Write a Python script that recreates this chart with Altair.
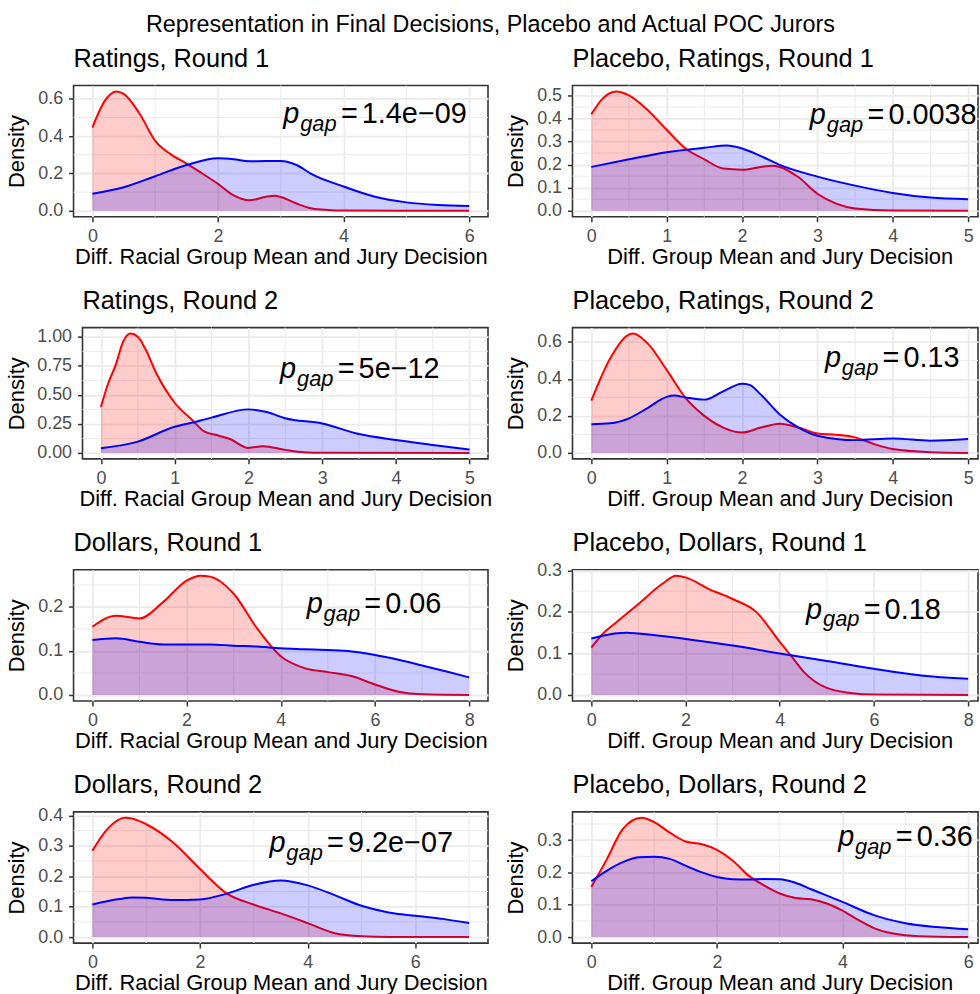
import altair as alt
import pandas as pd

FONT = "Liberation Sans"

main_title = "Representation in Final Decisions, Placebo and Actual POC Jurors"
panel_titles = ["Ratings, Round 1", "Placebo, Ratings, Round 1",
                "Ratings, Round 2", "Placebo, Ratings, Round 2",
                "Dollars, Round 1", "Placebo, Dollars, Round 1",
                "Dollars, Round 2", "Placebo, Dollars, Round 2"]
x_title_left = "Diff. Racial Group Mean and Jury Decision"
x_title_right = "Diff. Group Mean and Jury Decision"
p_values = ["1.4e\u221209", "0.0038", "5e\u221212", "0.13",
            "0.06", "0.18", "9.2e\u221207", "0.36"]

x_max = [6, 5, 5, 5, 8, 8, 7, 6]
x_ticks = [[0, 2, 4, 6], [0, 1, 2, 3, 4, 5], [0, 1, 2, 3, 4, 5], [0, 1, 2, 3, 4, 5],
           [0, 2, 4, 6, 8], [0, 2, 4, 6, 8], [0, 2, 4, 6], [0, 2, 4, 6]]
x_minor = [[1, 3, 5], [0.5, 1.5, 2.5, 3.5, 4.5], [0.5, 1.5, 2.5, 3.5, 4.5],
           [0.5, 1.5, 2.5, 3.5, 4.5], [1, 3, 5, 7], [1, 3, 5, 7], [1, 3, 5, 7], [1, 3, 5]]
y_ticks = [[0, 0.2, 0.4, 0.6], [0, 0.1, 0.2, 0.3, 0.4, 0.5], [0, 0.25, 0.5, 0.75, 1.0],
           [0, 0.2, 0.4, 0.6], [0, 0.1, 0.2], [0, 0.1, 0.2, 0.3],
           [0, 0.1, 0.2, 0.3, 0.4], [0, 0.1, 0.2, 0.3]]
y_minor = [[0.1, 0.3, 0.5], [0.05, 0.15, 0.25, 0.35, 0.45], [0.125, 0.375, 0.625, 0.875],
           [0.1, 0.3, 0.5], [0.05, 0.15, 0.25], [0.05, 0.15, 0.25],
           [0.05, 0.15, 0.25, 0.35], [0.05, 0.15, 0.25, 0.35]]
y_format = [".1f", ".1f", ".2f", ".1f", ".1f", ".1f", ".1f", ".1f"]
ann_x = [3.04, 2.9, 2.43, 3.10, 4.55, 4.56, 3.29, 3.93]
ann_y = [0.468, 0.374, 0.645, 0.466, 0.187, 0.184, 0.279, 0.283]

# Panel 1: Ratings, Round 1
r1_x = [0, 0.2, 0.38, 0.5, 0.75, 1, 1.25, 1.5, 1.75, 2, 2.25, 2.5, 2.75, 2.9, 3.0, 3.25, 3.5, 3.75, 4, 5, 6]
r1_y = [0.446, 0.59, 0.639, 0.626, 0.521, 0.375, 0.302, 0.253, 0.2, 0.144, 0.082, 0.056, 0.074, 0.081, 0.074, 0.039, 0.012, 0.004, 0.001, 0, 0]
b1_x = [0, 0.5, 1, 1.5, 2, 2.25, 2.5, 2.75, 3, 3.25, 3.5, 4, 4.5, 5, 5.5, 6]
b1_y = [0.091, 0.126, 0.185, 0.245, 0.281, 0.276, 0.265, 0.266, 0.266, 0.245, 0.195, 0.13, 0.075, 0.045, 0.031, 0.025]
# Panel 2: Placebo, Ratings, Round 1
r2_x = [0, 0.15, 0.33, 0.5, 0.75, 1, 1.25, 1.5, 1.75, 2, 2.25, 2.4, 2.5, 2.75, 3, 3.25, 3.5, 4, 5]
r2_y = [0.418, 0.486, 0.517, 0.50, 0.436, 0.351, 0.27, 0.223, 0.183, 0.178, 0.19, 0.195, 0.19, 0.145, 0.074, 0.031, 0.01, 0.001, 0]
b2_x = [0, 0.5, 1, 1.5, 1.8, 2, 2.25, 2.5, 3, 3.5, 4, 4.5, 5]
b2_y = [0.19, 0.223, 0.254, 0.273, 0.283, 0.27, 0.237, 0.199, 0.148, 0.109, 0.077, 0.057, 0.05]
# Panel 3: Ratings, Round 2
r3_x = [0, 0.1, 0.2, 0.3, 0.4, 0.5, 0.6, 0.75, 1, 1.25, 1.4, 1.6, 1.75, 2, 2.2, 2.5, 2.75, 3, 5]
r3_y = [0.395, 0.602, 0.758, 0.957, 1.028, 1.0, 0.90, 0.688, 0.432, 0.276, 0.185, 0.148, 0.12, 0.043, 0.057, 0.026, 0.006, 0.001, 0]
b3_x = [0, 0.5, 1, 1.2, 1.5, 2, 2.25, 2.5, 3, 3.5, 4, 4.5, 5]
b3_y = [0.04, 0.097, 0.225, 0.255, 0.304, 0.375, 0.352, 0.298, 0.253, 0.162, 0.111, 0.068, 0.028]
# Panel 4: Placebo, Ratings, Round 2
r4_x = [0, 0.25, 0.55, 0.75, 1, 1.25, 1.5, 1.75, 2, 2.25, 2.5, 2.75, 3, 3.25, 3.5, 3.75, 4, 4.5, 5]
r4_y = [0.283, 0.511, 0.645, 0.591, 0.449, 0.297, 0.2, 0.137, 0.11, 0.137, 0.158, 0.137, 0.105, 0.098, 0.084, 0.048, 0.021, 0.004, 0.0]
b4_x = [0, 0.25, 0.5, 0.75, 1, 1.1, 1.25, 1.5, 1.75, 2, 2.1, 2.25, 2.5, 2.75, 3, 3.5, 4, 4.5, 5]
b4_y = [0.155, 0.16, 0.187, 0.244, 0.303, 0.31, 0.30, 0.288, 0.333, 0.374, 0.368, 0.315, 0.208, 0.137, 0.093, 0.069, 0.078, 0.066, 0.075]
# Panel 5: Dollars, Round 1
r5_x = [0, 0.5, 1, 1.5, 2, 2.3, 2.5, 3, 3.5, 4, 4.5, 5, 5.5, 6, 6.5, 7, 8]
r5_y = [0.155, 0.18, 0.174, 0.211, 0.26, 0.271, 0.269, 0.23, 0.151, 0.088, 0.061, 0.052, 0.043, 0.024, 0.0075, 0.0015, 0]
b5_x = [0, 0.5, 1, 1.5, 2, 2.5, 3, 3.5, 4, 4.5, 5, 5.5, 6, 6.5, 7, 7.5, 8]
b5_y = [0.125, 0.129, 0.121, 0.115, 0.115, 0.115, 0.112, 0.11, 0.106, 0.104, 0.102, 0.099, 0.091, 0.08, 0.067, 0.054, 0.04]
# Panel 6: Placebo, Dollars, Round 1
r6_x = [0, 0.25, 0.5, 1, 1.5, 1.8, 2, 2.5, 3, 3.5, 4, 4.25, 4.5, 5, 5.5, 6, 8]
r6_y = [0.114, 0.148, 0.172, 0.219, 0.267, 0.287, 0.283, 0.255, 0.231, 0.2, 0.128, 0.093, 0.057, 0.017, 0.005, 0.001, 0]
b6_x = [0, 0.5, 0.75, 1, 2, 3, 4, 5, 6, 7, 8]
b6_y = [0.136, 0.148, 0.15, 0.148, 0.135, 0.119, 0.10, 0.082, 0.063, 0.047, 0.039]
# Panel 7: Dollars, Round 2
r7_x = [0, 0.25, 0.5, 0.6, 0.75, 1, 1.5, 2, 2.5, 3, 3.5, 4, 4.5, 5, 5.5, 7]
r7_y = [0.284, 0.349, 0.387, 0.392, 0.389, 0.371, 0.311, 0.224, 0.143, 0.107, 0.078, 0.046, 0.013, 0.003, 0.0005, 0]
b7_x = [0, 0.5, 0.75, 1, 1.5, 2, 2.5, 3, 3.5, 4, 4.5, 5, 5.5, 6, 6.5, 7]
b7_y = [0.107, 0.125, 0.13, 0.129, 0.122, 0.124, 0.143, 0.172, 0.186, 0.17, 0.138, 0.103, 0.081, 0.07, 0.06, 0.046]
# Panel 8: Placebo, Dollars, Round 2
r8_x = [0, 0.25, 0.5, 0.8, 1, 1.25, 1.5, 1.75, 2, 2.25, 2.5, 2.75, 3, 3.25, 3.5, 3.75, 4, 4.25, 4.5, 5, 5.5, 6]
r8_y = [0.155, 0.242, 0.334, 0.369, 0.356, 0.323, 0.296, 0.288, 0.27, 0.237, 0.191, 0.16, 0.135, 0.121, 0.117, 0.104, 0.082, 0.053, 0.028, 0.006, 0.001, 0]
b8_x = [0, 0.25, 0.5, 0.75, 1, 1.25, 1.5, 1.75, 2, 2.25, 2.5, 2.75, 3, 3.25, 3.5, 4, 4.5, 5, 5.5, 6]
b8_y = [0.173, 0.206, 0.232, 0.247, 0.249, 0.242, 0.221, 0.201, 0.186, 0.179, 0.178, 0.18, 0.179, 0.168, 0.148, 0.109, 0.068, 0.043, 0.031, 0.024]

red_x = [r1_x, r2_x, r3_x, r4_x, r5_x, r6_x, r7_x, r8_x]
red_y = [r1_y, r2_y, r3_y, r4_y, r5_y, r6_y, r7_y, r8_y]
blue_x = [b1_x, b2_x, b3_x, b4_x, b5_x, b6_x, b7_x, b8_x]
blue_y = [b1_y, b2_y, b3_y, b4_y, b5_y, b6_y, b7_y, b8_y]

# layout (pixels)
PANEL_H = 132
LEFT_W = [417, 408, 417, 417]
RIGHT_W = 408
FULL_W = 417
Y_EXT = [40, 40, 49, 40, 40, 40, 40, 40]
LABEL_HALF = 9      # half height of a y tick label box
TITLE_OFFSET = -7

GRID = "#EBEBEB"


def make_panel(i):
    right = (i % 2 == 1)
    xm = x_max[i]
    width = RIGHT_W if right else LEFT_W[i // 2]
    x0 = -0.05 * xm
    x1 = x0 + 1.1 * xm * (width / FULL_W) if right else 1.05 * xm
    ymax = max(max(red_y[i]), max(blue_y[i]))
    y0, y1 = -0.05 * ymax, 1.05 * ymax
    xs = alt.Scale(domain=[x0, x1], nice=False, zero=False)
    ys = alt.Scale(domain=[y0, y1], nice=False, zero=False)
    # a top tick label that sticks out above the panel pushes the title up; compensate
    top_label_px = (y1 - max(y_ticks[i])) / (y1 - y0) * PANEL_H
    stick_out = max(0.0, LABEL_HALF - top_label_px)

    xaxis = alt.Axis(values=x_ticks[i], format="d",
                     title=x_title_right if right else x_title_left,
                     titleX=FULL_W / 2 if right else width / 2,
                     minExtent=26, maxExtent=26, titlePadding=4)
    yaxis = alt.Axis(values=y_ticks[i], format=y_format[i], title="Density",
                     minExtent=Y_EXT[i], maxExtent=Y_EXT[i], titlePadding=5)

    def X(f):
        return alt.X(f, type="quantitative", scale=xs, axis=xaxis)

    def Y(f):
        return alt.Y(f, type="quantitative", scale=ys, axis=yaxis)

    gx = alt.Chart(pd.DataFrame({"v": x_minor[i]})).mark_rule(
        color=GRID, strokeWidth=1).encode(x=X("v"))
    gy = alt.Chart(pd.DataFrame({"v": y_minor[i]})).mark_rule(
        color=GRID, strokeWidth=1).encode(y=Y("v"))

    red = pd.DataFrame({"x": red_x[i], "y": red_y[i]})
    blue = pd.DataFrame({"x": blue_x[i], "y": blue_y[i]})
    ra = alt.Chart(red).mark_area(color="red", opacity=0.2, interpolate="monotone").encode(x=X("x"), y=Y("y"))
    rl = alt.Chart(red).mark_line(color="red", strokeWidth=2, interpolate="monotone").encode(x=X("x"), y=Y("y"))
    ba = alt.Chart(blue).mark_area(color="blue", opacity=0.2, interpolate="monotone").encode(x=X("x"), y=Y("y"))
    bl = alt.Chart(blue).mark_line(color="blue", strokeWidth=2, interpolate="monotone").encode(x=X("x"), y=Y("y"))

    ann = alt.Chart(pd.DataFrame({"x": [ann_x[i]], "y": [ann_y[i]]}))
    common = dict(font=FONT, align="left", baseline="alphabetic", color="black", clip=True)
    t_p = ann.mark_text(text="p", fontSize=29, fontStyle="italic", **common).encode(x=X("x"), y=Y("y"))
    t_g = ann.mark_text(text="gap", fontSize=22, fontStyle="italic", dx=17, dy=8, **common).encode(x=X("x"), y=Y("y"))
    t_e = ann.mark_text(text="=", fontSize=29, dx=58, **common).encode(x=X("x"), y=Y("y"))
    t_v = ann.mark_text(text=p_values[i], fontSize=29, dx=79, **common).encode(x=X("x"), y=Y("y"))

    panel = alt.layer(gx, gy, ra, rl, ba, bl, t_p, t_g, t_e, t_v).properties(
        width=width, height=PANEL_H,
        title=alt.TitleParams(panel_titles[i], anchor="start", frame="group",
                              fontSize=25.5, font=FONT, fontWeight="normal",
                              baseline="alphabetic", offset=TITLE_OFFSET - stick_out,
                              color="black"))
    if right:
        return panel
    # invisible 1px lead-in so that each left panel sits flush after its own axis title
    spacer = alt.Chart(pd.DataFrame({"v": [0]})).mark_point(opacity=0, size=1).encode(
        x=alt.value(0), y=alt.value(0)).properties(
        width=1, height=PANEL_H, view=alt.ViewBackground(stroke="transparent"))
    return alt.hconcat(spacer, panel, spacing=0)


cells = [make_panel(i) for i in range(8)]

chart = alt.concat(*cells, columns=2, align={"row": "all", "column": "none"},
                   spacing={"row": 19.6, "column": 11}).properties(
    title=alt.TitleParams(main_title, anchor="middle", fontSize=23.5, font=FONT,
                          fontWeight="normal", baseline="alphabetic", offset=-9, color="black"),
    padding={"left": 1, "top": 9, "right": 0, "bottom": 0},
).configure_view(
    stroke="#333333", strokeWidth=1.6
).configure_axis(
    domain=False, grid=True, gridColor=GRID, gridWidth=1.8,
    tickColor="#333333", tickWidth=1.5, tickSize=5,
    labelColor="#4D4D4D", labelFontSize=18, labelFont=FONT, labelPadding=6,
    labelFlush=False, labelOverlap=False,
    titleFont=FONT, titleFontSize=22, titleFontWeight="normal", titleColor="black"
)

chart.save("out.html", embed_options={"renderer": "svg", "actions": False})
